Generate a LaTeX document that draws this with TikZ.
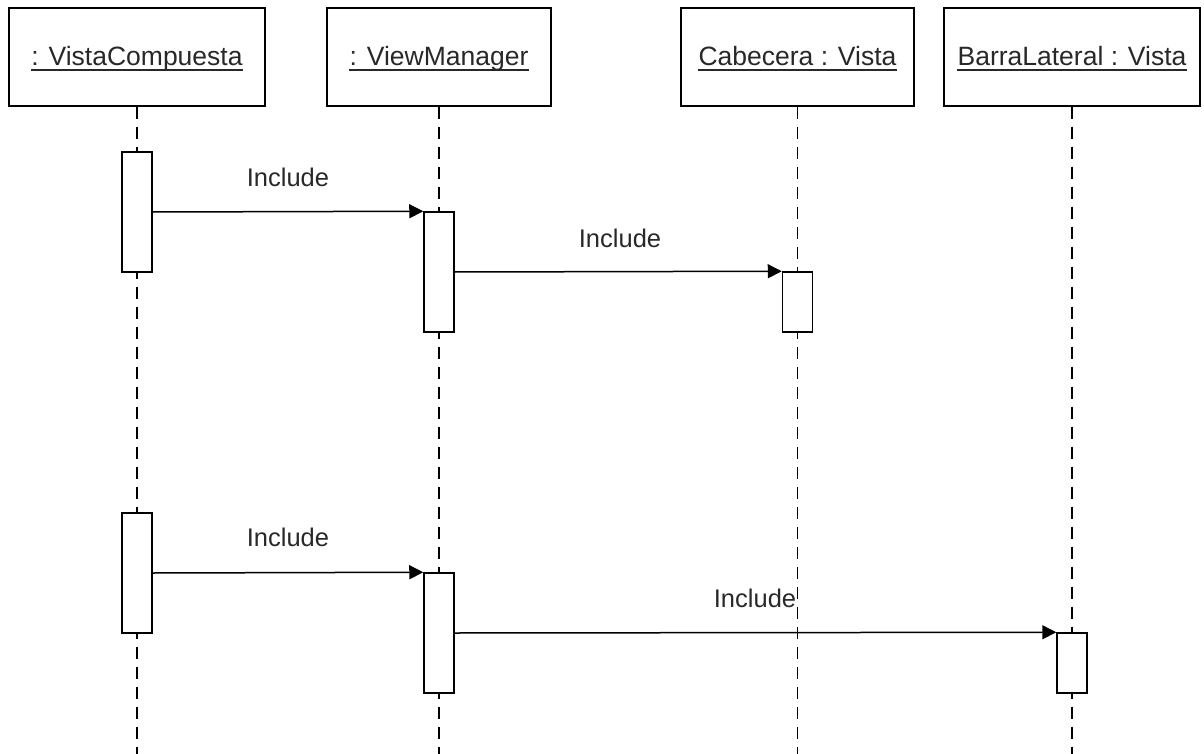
\documentclass[tikz,border=0pt]{standalone}
\usepackage{fontspec}
\setmainfont{Liberation Sans}
\usetikzlibrary{arrows.meta}
\definecolor{txt}{RGB}{40,40,40}
\begin{document}
\begin{tikzpicture}[x=1pt,y=-1pt,
  hdr/.style={draw,line width=1.5pt,minimum height=98pt,inner sep=0pt},
  htext/.style={anchor=base,inner sep=0pt,text=txt,font=\fontsize{26.5}{30}\selectfont},
  act/.style={draw,fill=white,line width=1.5pt,minimum width=30pt,inner sep=0pt},
  life/.style={line width=1.3pt,dash pattern=on 12pt off 8pt},
  msg/.style={line width=1.5pt,-{Triangle[length=14pt,width=14pt]}},
  lbl/.style={inner sep=0pt,text=txt,font=\fontsize{25.5}{28}\selectfont}]
\useasboundingbox (0,0) rectangle (1204,754);
% headers
\node[hdr,minimum width=256pt] (h1) at (137,57) {};
\node[hdr,minimum width=224pt] (h2) at (439,57) {};
\node[hdr,minimum width=233pt] (h3) at (797.5,57) {};
\node[hdr,minimum width=256pt] (h4) at (1072,57) {};
\node[htext] (t1) at (137,66) {: VistaCompuesta};
\node[htext] (t2) at (439,66) {: ViewManager};
\node[htext] (t3) at (797.5,66) {Cabecera : Vista};
\node[htext] (t4) at (1072,66) {BarraLateral : Vista};
\foreach \t in {t1,t2,t3,t4}{
  \draw[line width=1.2pt,txt] ([yshift=-4pt]\t.base west) -- ([yshift=-4pt]\t.base east);
}
% lifelines
\coordinate (e1) at (137,754);
\coordinate (e2) at (439,754);
\coordinate (e3) at (797.5,754);
\coordinate (e4) at (1072,754);
\draw[life] (h1.south) -- (e1);
\draw[life] (h2.south) -- (e2);
\draw[life] (h3.south) -- (e3);
\draw[life] (h4.south) -- (e4);
% activations
\node[act,minimum height=120pt] (a1) at (137,212) {};
\node[act,minimum height=120pt] (a2) at (439,272) {};
\node[act,minimum height=60pt] (a3) at (797.5,302) {};
\node[act,minimum height=120pt] (a4) at (137,573) {};
\node[act,minimum height=120pt] (a5) at (439,633) {};
\node[act,minimum height=60pt] (a6) at (1072,663) {};
% messages
\draw[msg] (a1.east) -- (a2.north west);
\draw[msg] (a2.east) -- (a3.north west);
\draw[msg] (a4.east) -- (a5.north west);
\draw[msg] (a5.east) -- (a6.north west);
\node[lbl] (l1) at (288,177) {Include};
\node[lbl] (l2) at (620,238) {Include};
\node[lbl] (l3) at (288,537) {Include};
\node[lbl] (l4) at (755,598) {Include};
\end{tikzpicture}
\end{document}
